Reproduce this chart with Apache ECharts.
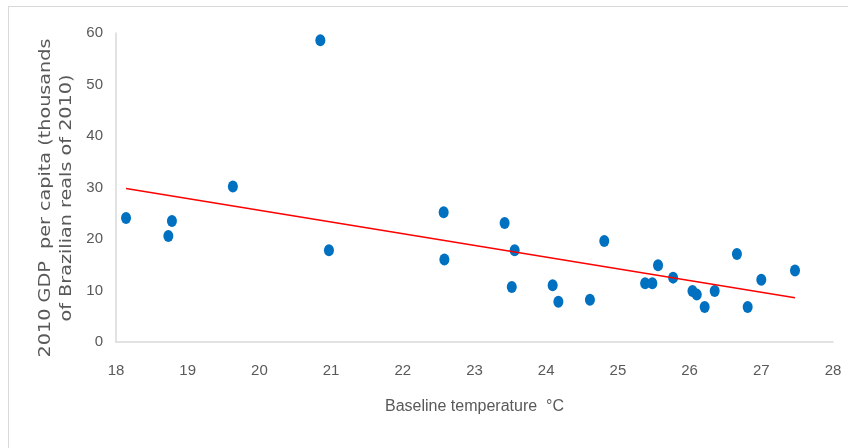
<!DOCTYPE html>
<html>
<head>
<meta charset="utf-8">
<script src="https://cdn.jsdelivr.net/npm/echarts@6/dist/echarts.min.js"></script>
<style>
  html, body { margin: 0; padding: 0; background: #fff; }
  #frame { position: absolute; left: 8px; top: 6px; width: 840px; height: 442px;
           border-top: 1px solid #d9d9d9; border-left: 1px solid #d9d9d9; }
  #chart { position: absolute; left: 0; top: 0; width: 848px; height: 448px; }
</style>
</head>
<body>
<div id="frame"></div>
<div id="chart"></div>
<script>
// Baseline temperature (°C)
const temperature = [18.14, 18.73, 18.78, 19.63, 20.85, 20.97, 22.57, 22.58, 23.42, 23.56,
  23.52, 24.09, 24.17, 24.61, 24.81, 25.38, 25.48, 25.56, 25.77, 26.04,
  26.10, 26.21, 26.35, 26.66, 26.81, 27.00, 27.47];
// 2010 GDP per capita (thousands of Brazilian reals of 2010)
const gdp = [24.1, 20.6, 23.5, 30.2, 58.6, 17.8, 25.2, 16.0, 23.1, 17.8,
  10.7, 11.0, 7.8, 8.2, 19.6, 11.4, 11.4, 14.9, 12.5, 9.9,
  9.2, 6.8, 9.9, 17.1, 6.8, 12.1, 13.9];
// Linear trend line endpoints
const trendX = [18.14, 27.47];
const trendY = [29.8, 8.6];
const xTicks = [18, 19, 20, 21, 22, 23, 24, 25, 26, 27, 28];
const yTicks = [0, 10, 20, 30, 40, 50, 60];
const xTitle = 'Baseline temperature  °C';
const yTitle = '2010 GDP  per capita (thousands\nof Brazilian reals of 2010)';

const labelFont = "'Liberation Sans', sans-serif";
const chart = echarts.init(document.getElementById('chart'), null, { renderer: 'canvas' });
chart.setOption({
  backgroundColor: 'transparent',
  animation: false,
  grid: { left: 116, right: 15, top: 33, bottom: 106, containLabel: false },
  graphic: [{
    type: 'text',
    x: 57, y: 198,
    rotation: Math.PI / 2,
    scaleX: 1.28,
    style: {
      text: yTitle,
      fill: '#595959',
      font: "15px 'DejaVu Sans', sans-serif",
      lineHeight: 21,
      align: 'center',
      verticalAlign: 'middle'
    }
  }],
  xAxis: {
    type: 'value', min: xTicks[0], max: xTicks[xTicks.length - 1], interval: 1,
    name: xTitle, nameLocation: 'middle', nameGap: 57,
    nameTextStyle: { color: '#595959', fontSize: 16, fontFamily: labelFont },
    axisLine: { show: true, lineStyle: { color: '#d9d9d9', width: 1.5 } },
    axisTick: { show: false },
    splitLine: { show: false },
    axisLabel: { color: '#595959', fontSize: 15, fontFamily: labelFont, margin: 21 }
  },
  yAxis: {
    type: 'value', min: yTicks[0], max: yTicks[yTicks.length - 1], interval: 10,
    axisLine: { show: true, lineStyle: { color: '#d9d9d9', width: 1.5 } },
    axisTick: { show: false },
    splitLine: { show: false },
    axisLabel: { color: '#595959', fontSize: 15, fontFamily: labelFont, margin: 13 }
  },
  series: [
    {
      type: 'scatter',
      data: temperature.map((t, i) => [t, gdp[i]]),
      symbol: 'circle', symbolSize: [10, 12],
      itemStyle: { color: '#0070c0', opacity: 1 }
    },
    {
      type: 'line',
      data: trendX.map((t, i) => [t, trendY[i]]),
      symbol: 'none',
      lineStyle: { color: '#ff0000', width: 1.5 }
    }
  ]
});
</script>
</body>
</html>
